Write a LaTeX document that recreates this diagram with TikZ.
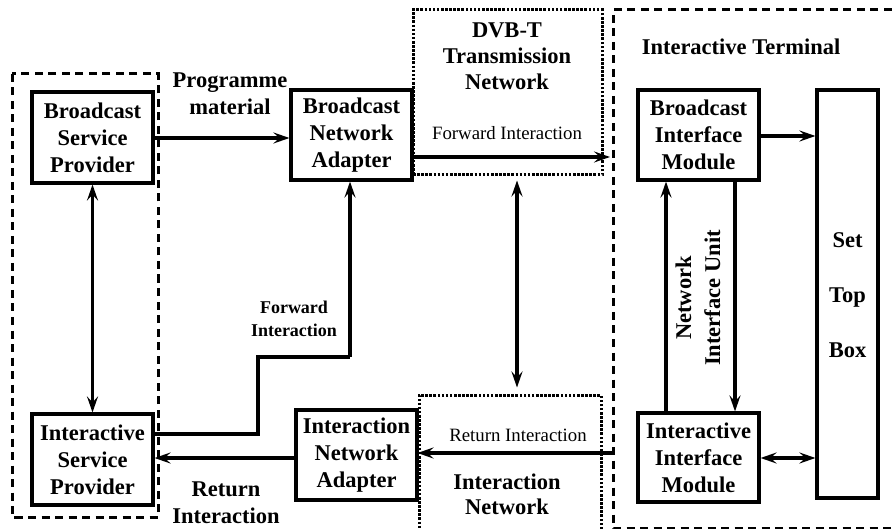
\documentclass[tikz,border=0pt]{standalone}
\usepackage{fontspec}
\setmainfont{Liberation Serif}
\usetikzlibrary{arrows.meta,calc}
\begin{document}
\begin{tikzpicture}[x=1pt,y=-1pt,
  box/.style={draw,line width=3.1pt,inner sep=0pt,align=center,
    font=\fontsize{22.5}{27}\selectfont\bfseries},
  dotbox/.style={draw,line width=3pt,dash pattern=on 2.6pt off 1.5pt,inner sep=0pt},
  dashbox/.style={line width=3pt,dash pattern=on 8pt off 5.5pt},
  lbl/.style={align=center,font=\fontsize{22.5}{27}\selectfont\bfseries},
  slbl/.style={align=center,font=\fontsize{18}{23}\selectfont\bfseries},
  plain/.style={align=center,font=\fontsize{18.8}{22}\selectfont},
  wire/.style={line width=3.3pt},
  tip/.tip={Stealth[length=16pt,width=11pt,inset=6pt]},
  arr/.style={wire,-tip},
  darr/.style={wire,tip-tip}]
\useasboundingbox (0,0) rectangle (894,529);

% outer groupings
\draw[dashbox] (12,74) rectangle (158,517);
\draw[dashbox] (905,10) -- (613,10) -- (613,528) -- (905,528);
\node[dotbox,minimum width=189pt,minimum height=165pt] (dvb) at (507.5,92.5) {};
\node[dotbox,minimum width=182pt,minimum height=145pt] (inet) at (510,467.5) {};

% processing blocks
\node[box,minimum width=121pt,minimum height=91pt] (bsp) at (92.5,137.5) {Broadcast\\Service\\Provider};
\node[box,minimum width=121pt,minimum height=91pt] (isp) at (92.5,459.5) {Interactive\\Service\\Provider};
\node[box,minimum width=121pt,minimum height=90pt] (bna) at (351.5,135) {Broadcast\\Network\\Adapter};
\node[box,minimum width=121pt,minimum height=90pt] (ina) at (356.5,455) {Interaction\\Network\\Adapter};
\node[box,minimum width=121pt,minimum height=90pt] (bim) at (698.5,135) {Broadcast\\Interface\\Module};
\node[box,minimum width=121pt,minimum height=89pt] (iim) at (698.5,457.5) {Interactive\\Interface\\Module};
\node[box,minimum width=61pt,minimum height=408pt] (stb) at (847.5,294) {};

% labels
\node[lbl] (dvbt) at (507,56) {DVB-T\\[-1pt]Transmission\\[-1pt]Network};
\node[lbl] (inett) at (507,494) {Interaction\\[-2pt]Network};
\node[lbl] (termt) at (741,47) {Interactive Terminal};
\node[lbl] (prog) at (230,94) {Programme\\material};
\node[lbl] (retl) at (226,503) {Return\\Interaction};
\node[slbl] (fwdl) at (294,319) {Forward\\Interaction};
\node[plain] (fwdt) at (507,133) {Forward Interaction};
\node[plain] (rett) at (518,435) {Return Interaction};
\node[lbl] (stbt) at (stb) [yshift=-1pt] {Set\\[28pt]Top\\[28pt]Box};
\node[lbl,rotate=90,font=\fontsize{22.5}{29}\selectfont\bfseries] (niu) at (698,298) {Network\\Interface Unit};

% broadcast path
\draw[arr] (bsp.east |- 0,138) -- (bna.west |- 0,138);
\coordinate (fwdend) at (610,157);
\draw[arr] (bna.east |- fwdend) -- (fwdend);
\draw[darr] (bsp.south) -- (isp.north);
\draw[darr] ($(dvb.south)+(9.5,4)$) -- ($(inet.north)+(7,-6)$);

% forward interaction from the service provider
\coordinate (k1) at (258,434);
\coordinate (k2) at (258,357);
\coordinate (k3) at (350,357);
\draw[wire] (isp.east |- k1) -- (k1) -- (k2) -- (k3);
\draw[arr] (k3) -- (k3 |- bna.south);

% return interaction
\coordinate (retstart) at (613,453);
\draw[arr] (retstart) -- (inet.west |- retstart);
\draw[arr] (ina.west |- 0,458) -- (isp.east |- 0,458);

% terminal internals
\draw[arr] (bim.east |- 0,136) -- (stb.west |- 0,136);
\draw[darr] (iim.east |- 0,458) -- (stb.west |- 0,458);
\draw[arr] (iim.north -| 666,0) -- (bim.south -| 666,0);
\draw[arr] (bim.south -| 735,0) -- (iim.north -| 735,0);
\end{tikzpicture}
\end{document}
